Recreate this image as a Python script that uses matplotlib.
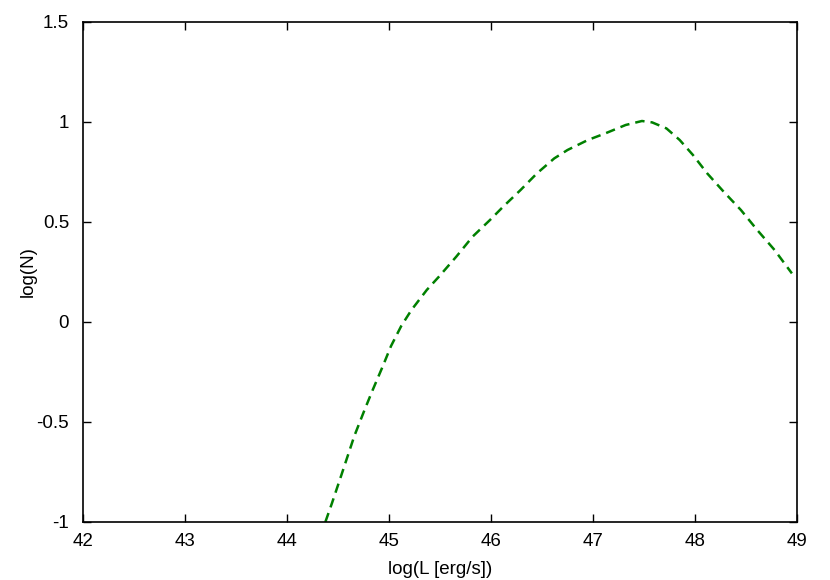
import numpy as np
import matplotlib
matplotlib.use("Agg")
import matplotlib.pyplot as plt

plt.rcParams['font.family'] = ['Liberation Sans', 'DejaVu Sans']

# curve (log L, log N)
log_L = [44.376, 44.44, 44.53, 44.66, 44.76, 44.84, 44.94, 45.02, 45.12, 45.22,
         45.37, 45.49, 45.66, 45.82, 45.99, 46.12, 46.29, 46.45, 46.62, 46.75,
         46.95, 47.12, 47.32, 47.48, 47.58, 47.72, 47.85, 47.98, 48.12, 48.28,
         48.45, 48.61, 48.78, 48.95]
log_N = [-1.0, -0.907, -0.77, -0.57, -0.44, -0.34, -0.22, -0.12, -0.02, 0.06,
         0.16, 0.227, 0.327, 0.427, 0.51, 0.577, 0.66, 0.743, 0.818, 0.86,
         0.91, 0.943, 0.985, 1.005, 0.998, 0.968, 0.91, 0.835, 0.743, 0.652,
         0.56, 0.46, 0.36, 0.243]

x_ticks = [42, 43, 44, 45, 46, 47, 48, 49]
y_ticks = [-1, -0.5, 0, 0.5, 1, 1.5]
y_ticklabels = ["-1", "-0.5", "0", "0.5", "1", "1.5"]

fig = plt.figure(figsize=(8.3, 5.8), dpi=100)
ax = fig.add_axes([83 / 830, 1 - 522 / 580, (797 - 83) / 830, (522 - 22) / 580])

ax.plot(log_L, log_N, color="#008000", lw=1.8, dashes=(3.8, 2.4))

ax.set_xlim(42, 49)
ax.set_ylim(-1, 1.5)
ax.set_xticks(x_ticks)
ax.set_xticklabels([str(t) for t in x_ticks])
ax.set_yticks(y_ticks)
ax.set_yticklabels(y_ticklabels)
ax.tick_params(direction="in", length=6, width=1, top=True, right=True,
               labelsize=13.5)
ax.tick_params(axis="x", pad=8)
ax.tick_params(axis="y", pad=10)
for s in ax.spines.values():
    s.set_linewidth(1.2)

# gnuplot-style fixed label positions
ax.set_xlabel("log(L [erg/s])", fontsize=13.5, va="center")
ax.xaxis.set_label_coords(0.5, -0.096)
ax.set_ylabel("log(N)", fontsize=13.5, va="center")
ax.yaxis.set_label_coords(-0.077, 0.5)

fig.savefig("out.png", dpi=100)
